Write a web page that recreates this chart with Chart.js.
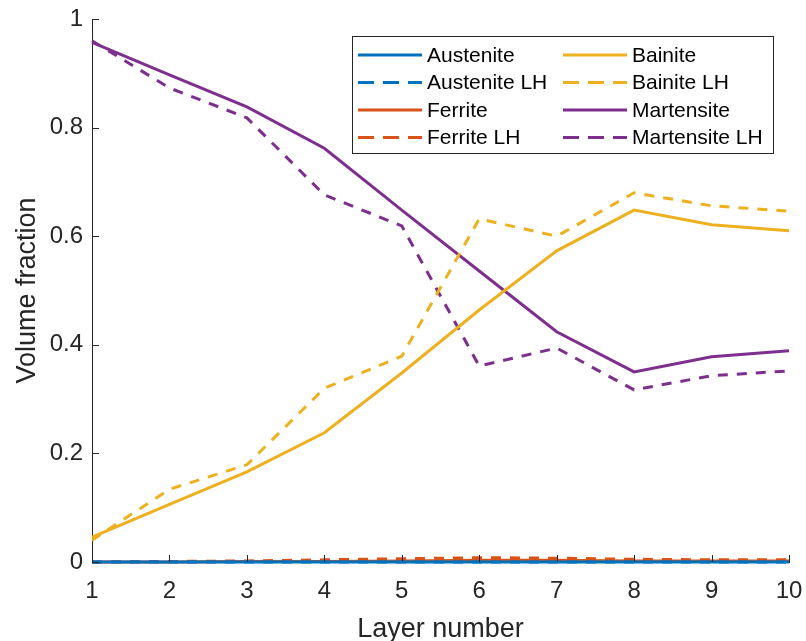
<!DOCTYPE html>
<html>
<head>
<meta charset="utf-8">
<script src="https://cdn.jsdelivr.net/npm/chart.js@4"></script>
<style>
  html, body { margin: 0; padding: 0; background: #fff; }
  canvas { display: block; }
</style>
</head>
<body>
<canvas id="chart" width="806" height="641"></canvas>
<script>
const layers = [1, 2, 3, 4, 5, 6, 7, 8, 9, 10];

const austenite     = [0.000, 0.000, 0.000, 0.000, 0.000, 0.000, 0.000, 0.000, 0.000, 0.000];
const austeniteLH   = [0.000, 0.000, 0.000, 0.000, 0.000, 0.000, 0.000, 0.000, 0.000, 0.000];
const ferrite       = [0.000, 0.000, 0.001, 0.001, 0.002, 0.003, 0.003, 0.002, 0.002, 0.002];
const ferriteLH     = [0.000, 0.001, 0.002, 0.004, 0.006, 0.008, 0.007, 0.005, 0.004, 0.004];
const bainite       = [0.046, 0.106, 0.166, 0.238, 0.348, 0.464, 0.573, 0.648, 0.621, 0.610];
const bainiteLH     = [0.040, 0.134, 0.179, 0.320, 0.379, 0.632, 0.600, 0.680, 0.656, 0.646];
const martensite    = [0.957, 0.897, 0.838, 0.762, 0.648, 0.536, 0.424, 0.350, 0.378, 0.389];
const martensiteLH  = [0.960, 0.873, 0.818, 0.676, 0.619, 0.361, 0.394, 0.317, 0.343, 0.352];

const yTicks = [0, 0.2, 0.4, 0.6, 0.8, 1];

const BLUE = "#0072BD", ORANGE = "#D95319", YELLOW = "#EDB120", PURPLE = "#7E2F8E";
const AXIS = "#262626";
const FONT = "'Liberation Sans', Arial, Helvetica, sans-serif";
const DASH = [10, 9];

function series(label, values, color, dashed) {
  return {
    label,
    data: layers.map((x, i) => ({ x, y: values[i] })),
    borderColor: color,
    backgroundColor: color,
    borderWidth: 3,
    borderDash: dashed ? DASH : [],
    pointRadius: 0,
    tension: 0,
    clip: false
  };
}

// ticks pointing into the plot, like the original
const innerTicks = {
  id: "innerTicks",
  afterDraw(chart) {
    const ctx = chart.ctx;
    const { left, bottom } = chart.chartArea;
    const xs = chart.scales.x, ys = chart.scales.y;
    ctx.save();
    ctx.strokeStyle = AXIS;
    ctx.lineWidth = 1;
    ctx.beginPath();
    xs.ticks.forEach(t => {
      const px = Math.round(xs.getPixelForValue(t.value)) + 0.5;
      ctx.moveTo(px, bottom);
      ctx.lineTo(px, bottom - 7);
    });
    ys.ticks.forEach(t => {
      const py = Math.round(ys.getPixelForValue(t.value)) + 0.5;
      ctx.moveTo(left, py);
      ctx.lineTo(left + 7, py);
    });
    ctx.stroke();
    ctx.restore();
  }
};

// two-column boxed legend
const boxLegend = {
  id: "boxLegend",
  afterDraw(chart) {
    const ctx = chart.ctx;
    const box = { x: 352, y: 36, w: 421, h: 117 };
    ctx.save();
    ctx.fillStyle = "#fff";
    ctx.fillRect(box.x, box.y, box.w, box.h);
    ctx.strokeStyle = AXIS;
    ctx.lineWidth = 1;
    ctx.strokeRect(box.x + 0.5, box.y + 0.5, box.w, box.h);
    ctx.font = "21px " + FONT;
    ctx.textBaseline = "middle";
    ctx.fillStyle = "#000";
    const cols = [358, 563];
    const rows = [55, 82.5, 110, 137.5];
    chart.data.datasets.forEach((ds, i) => {
      const cx = cols[Math.floor(i / 4)];
      const cy = rows[i % 4];
      ctx.strokeStyle = ds.borderColor;
      ctx.lineWidth = ds.borderWidth;
      ctx.setLineDash(ds.borderDash.length ? [16, 9] : []);
      ctx.beginPath();
      ctx.moveTo(cx, cy);
      ctx.lineTo(cx + 64, cy);
      ctx.stroke();
      ctx.setLineDash([]);
      ctx.fillText(ds.label, cx + 69, cy + 1);
    });
    ctx.restore();
  }
};

new Chart(document.getElementById("chart"), {
  type: "line",
  data: {
    datasets: [
      series("Austenite", austenite, BLUE, false),
      series("Austenite LH", austeniteLH, BLUE, true),
      series("Ferrite", ferrite, ORANGE, false),
      series("Ferrite LH", ferriteLH, ORANGE, true),
      series("Bainite", bainite, YELLOW, false),
      series("Bainite LH", bainiteLH, YELLOW, true),
      series("Martensite", martensite, PURPLE, false),
      series("Martensite LH", martensiteLH, PURPLE, true)
    ]
  },
  options: {
    responsive: false,
    animation: false,
    layout: { padding: { top: 19, right: 17, left: 0, bottom: 0 } },
    plugins: { legend: { display: false }, tooltip: { enabled: false } },
    scales: {
      x: {
        type: "linear",
        min: 1,
        max: 10,
        afterBuildTicks: s => { s.ticks = layers.map(v => ({ value: v })); },
        afterFit: s => { s.height = 79; s.paddingLeft = 0; s.paddingRight = 0; },
        grid: { display: false, drawTicks: false },
        border: { display: true, color: AXIS, width: 1 },
        ticks: { color: AXIS, font: { family: FONT, size: 24 }, padding: 15, maxRotation: 0 },
        title: { display: true, text: "Layer number", color: AXIS, font: { family: FONT, size: 27, lineHeight: 1 }, padding: { top: 0, bottom: -2 } }
      },
      y: {
        min: 0,
        max: 1,
        afterBuildTicks: s => { s.ticks = yTicks.map(v => ({ value: v })); },
        afterFit: s => { s.width = 92; s.paddingTop = 0; s.paddingBottom = 0; },
        grid: { display: false, drawTicks: false },
        border: { display: true, color: AXIS, width: 1 },
        ticks: { color: AXIS, font: { family: FONT, size: 24 }, padding: 9, callback: v => String(+v.toFixed(1)) },
        title: { display: true, text: "Volume fraction", color: AXIS, font: { family: FONT, size: 27, lineHeight: 1 }, padding: { top: 14, bottom: 0 } }
      }
    }
  },
  plugins: [innerTicks, boxLegend]
});
</script>
</body>
</html>
